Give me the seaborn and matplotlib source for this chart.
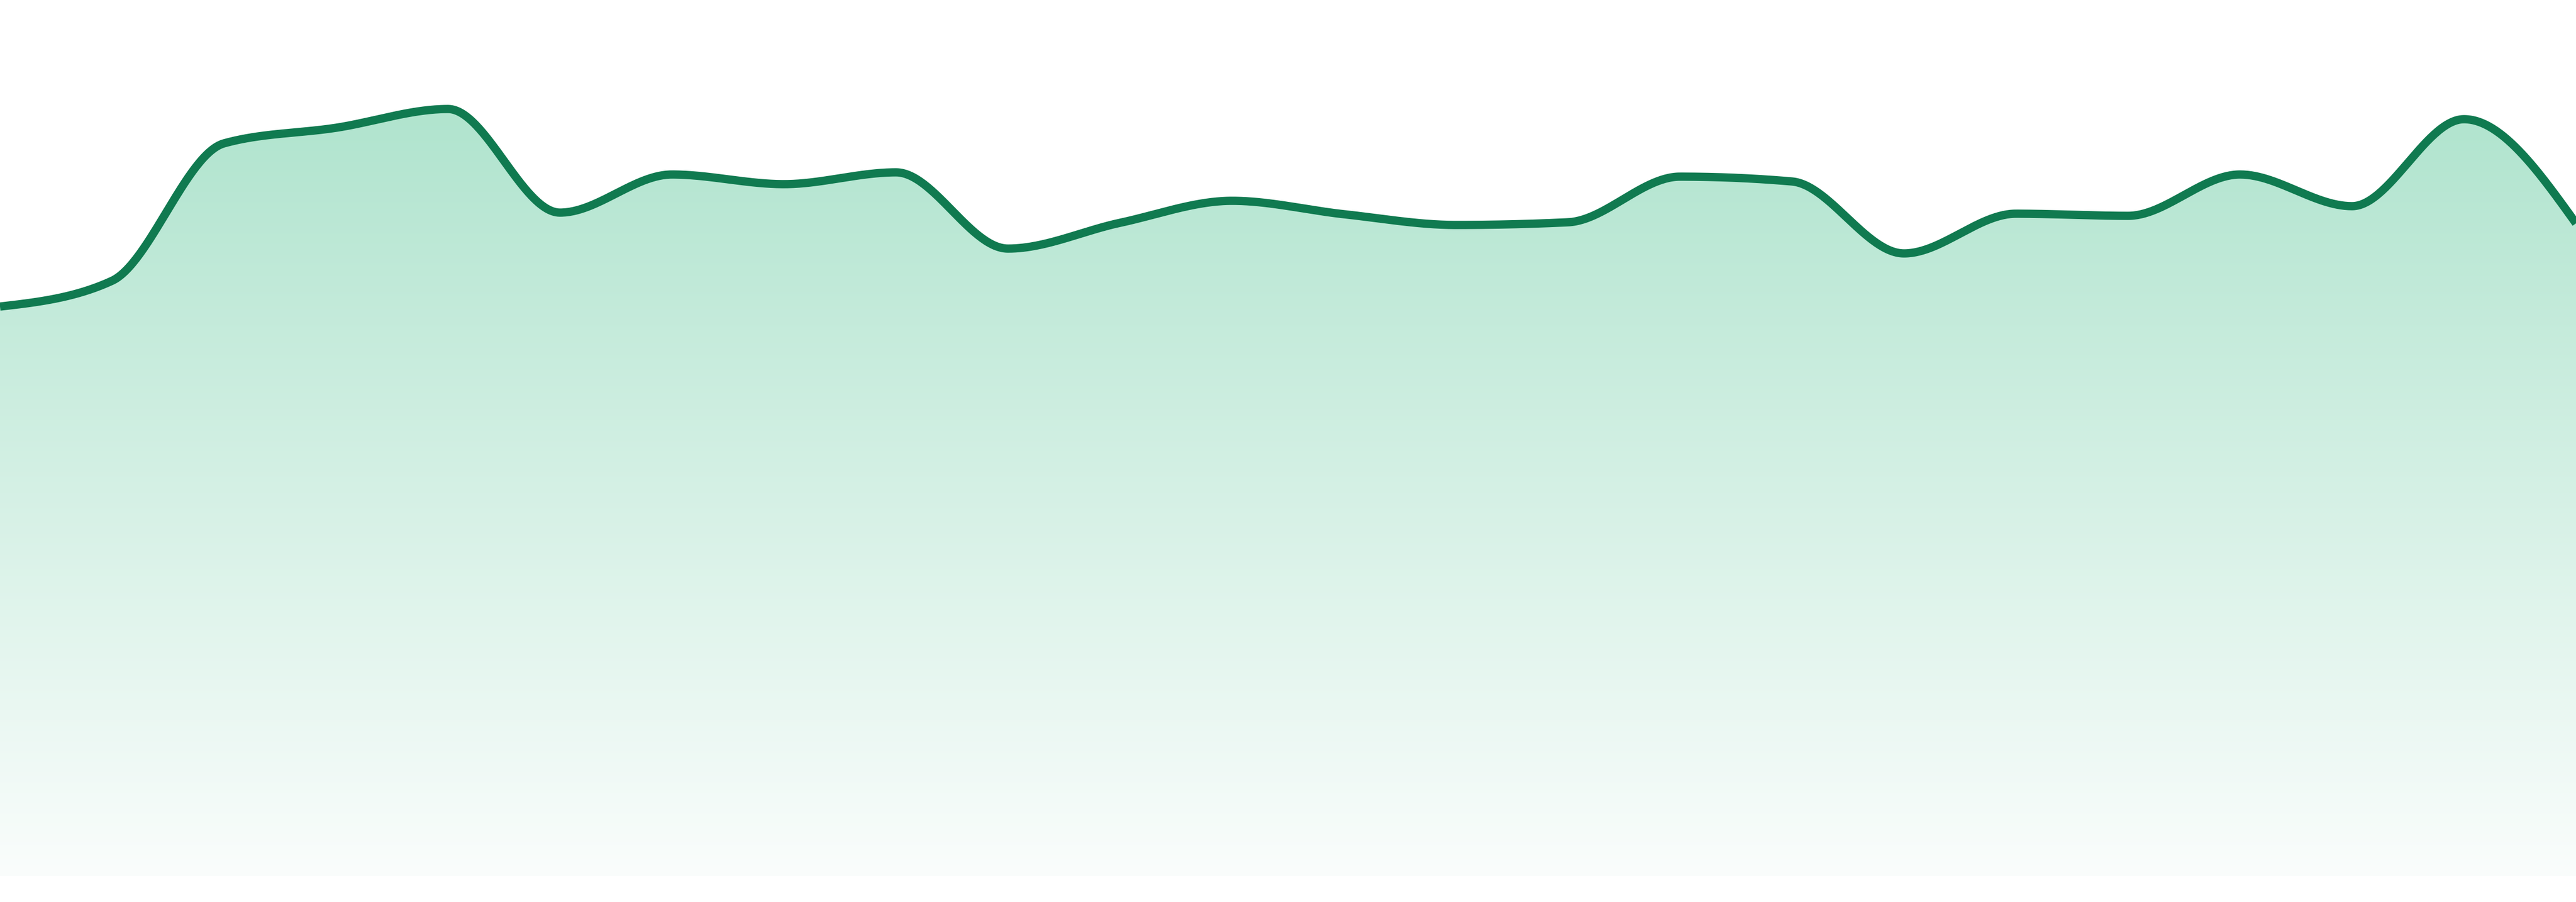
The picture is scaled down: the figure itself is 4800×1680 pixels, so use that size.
import numpy as np
import matplotlib
matplotlib.use("Agg")
import matplotlib.pyplot as plt
from matplotlib.patches import Polygon
from matplotlib.colors import to_rgb
import seaborn as sns

# ---- data ----
periods = list(range(1, 25))
values = [106.1, 110.9, 136.5, 139.4, 142.9, 123.6, 130.7, 128.9,
          131.1, 116.9, 121.7, 125.8, 123.3, 121.3, 121.8, 130.3,
          129.4, 116.0, 123.4, 123.0, 130.7, 124.8, 141.0, 121.6]

line_color = "#107a50"
fill_top = "#b0e4ce"
fill_bottom = "#fafdfc"


def monotone_x(x, y, samples=60):
    """d3.curveMonotoneX (Steffen) evaluated densely."""
    x = np.asarray(x, float)
    y = np.asarray(y, float)
    n = len(x)
    h = np.diff(x)
    s = np.diff(y) / h
    t = np.zeros(n)
    for i in range(1, n - 1):
        h0, h1 = h[i - 1], h[i]
        s0, s1 = s[i - 1], s[i]
        p = (s0 * h1 + s1 * h0) / (h0 + h1)
        t[i] = (np.sign(s0) + np.sign(s1)) * min(abs(s0), abs(s1), 0.5 * abs(p))
    t[0] = (3 * s[0] - t[1]) / 2
    t[-1] = (3 * s[-1] - t[-2]) / 2
    xs, ys = [], []
    for i in range(n - 1):
        u = np.linspace(0, 1, samples, endpoint=(i == n - 2))
        hh = h[i]
        h00 = 2 * u**3 - 3 * u**2 + 1
        h10 = u**3 - 2 * u**2 + u
        h01 = -2 * u**3 + 3 * u**2
        h11 = u**3 - u**2
        xs.append(x[i] + u * hh)
        ys.append(h00 * y[i] + h10 * hh * t[i] + h01 * y[i + 1] + h11 * hh * t[i + 1])
    return np.concatenate(xs), np.concatenate(ys)


sns.set_theme(style="white")

fig = plt.figure(figsize=(16, 5.6), dpi=300)
ax = fig.add_axes([0, 0, 1, 1])

xpos = np.arange(len(periods))
xs, ys = monotone_x(xpos, values)

ax.set_xlim(xpos[0], xpos[-1])
ax.set_ylim(-4.8, 163.2)

# gradient fill under the curve
top_v = max(ys)
c_top = np.array(to_rgb(fill_top))
c_bot = np.array(to_rgb(fill_bottom))
fr = np.linspace(0, 1, 512)[:, None]
grad = (c_top[None, :] * (1 - fr) + c_bot[None, :] * fr)[:, None, :]
im = ax.imshow(grad, extent=[xpos[0], xpos[-1], 0, top_v], origin="upper",
               aspect="auto", interpolation="bilinear", zorder=1)
verts = np.column_stack([np.r_[xs, xs[-1], xs[0]], np.r_[ys, 0, 0]])
clip = Polygon(verts, closed=True, facecolor="none", edgecolor="none")
ax.add_patch(clip)
im.set_clip_path(clip)

df_line = {"x": xs, "y": ys}
sns.lineplot(x=xs, y=ys, color=line_color, linewidth=3.7, estimator=None,
             sort=False, ax=ax, zorder=3, solid_capstyle="butt",
             solid_joinstyle="round")

ax.set_xlim(xpos[0], xpos[-1])
ax.set_ylim(-4.8, 163.2)
ax.axis("off")
fig.patch.set_facecolor("white")

fig.savefig("out.png", dpi=300, facecolor="white")
